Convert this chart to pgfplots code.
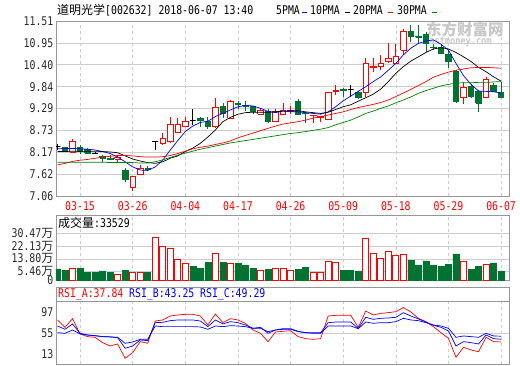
\documentclass[border=0pt]{standalone}
\usepackage{fontspec}
\usepackage{pgfplots}
\usepackage{pgfplotstable}
\pgfplotsset{compat=1.18}
\newfontfamily\lab[FakeStretch=0.82]{DejaVu Sans Mono}
\newfontfamily\cjk{Noto Sans CJK SC}
\newcommand{\fs}{\fontsize{12}{12}\selectfont}
\definecolor{upred}{RGB}{255,0,0}
\definecolor{dngreen}{RGB}{0,115,50}
\definecolor{framec}{RGB}{150,150,150}
\definecolor{gridc}{RGB}{205,205,205}
\definecolor{lblc}{RGB}{40,40,40}
\definecolor{mablue}{RGB}{0,0,255}
\definecolor{magreen}{RGB}{0,128,0}

\pgfplotstableread{
i O H L C
0 8.31 8.39 8.22 8.31
1 8.30 8.31 8.18 8.19
2 8.17 8.52 8.15 8.44
3 8.30 8.36 8.13 8.20
4 8.25 8.27 8.13 8.15
5 8.15 8.19 8.12 8.15
6 8.06 8.10 7.93 8.02
7 8.02 8.10 7.97 7.98
8 8.00 8.07 7.90 8.03
9 7.72 7.76 7.42 7.47
10 7.28 7.57 7.19 7.55
11 7.62 7.85 7.60 7.76
12 7.76 7.82 7.70 7.73
13 8.44 8.44 8.23 8.44
14 8.40 8.65 8.36 8.53
15 8.44 9.08 8.40 8.87
16 8.68 9.04 8.65 8.87
17 8.82 9.08 8.81 8.95
18 8.98 9.27 8.87 8.98
19 9.04 9.07 8.82 8.97
20 8.96 9.08 8.76 8.83
21 8.82 9.54 8.80 9.31
22 9.34 9.42 9.04 9.16
23 9.04 9.50 9.02 9.46
24 9.41 9.48 9.26 9.39
25 9.37 9.47 9.23 9.35
26 9.33 9.34 9.14 9.20
27 9.14 9.30 9.12 9.24
28 9.20 9.26 8.91 8.95
29 8.95 9.26 8.93 9.20
30 9.14 9.42 9.12 9.24
31 9.22 9.36 9.14 9.24
32 9.46 9.53 9.12 9.14
33 9.17 9.20 8.91 9.15
34 9.11 9.13 8.91 9.12
35 9.07 9.09 8.93 9.08
36 9.01 9.71 8.99 9.69
37 9.72 9.88 9.63 9.74
38 9.76 9.80 9.58 9.74
39 9.76 9.88 9.57 9.76
40 9.69 9.72 9.52 9.58
41 9.70 10.56 9.59 10.43
42 10.34 10.56 10.22 10.35
43 10.35 10.65 10.26 10.43
44 10.48 10.94 10.43 10.56
45 10.43 10.92 10.41 10.60
46 10.77 11.31 10.65 11.24
47 11.25 11.40 10.97 11.13
48 11.13 11.41 10.94 11.10
49 11.16 11.24 10.73 10.94
50 10.85 10.92 10.77 10.83
51 10.83 10.92 10.66 10.69
52 10.65 10.77 10.31 10.48
53 10.22 10.26 9.42 9.46
54 9.56 9.97 9.39 9.81
55 9.84 9.90 9.56 9.60
56 9.71 9.76 9.20 9.42
57 9.57 10.09 9.54 10.03
58 9.88 9.93 9.70 9.73
59 9.70 9.97 9.54 9.56
}\candles

\pgfplotstableread{
i ma5 ma10 ma20 ma30
0 8.26 8.19 7.85 7.92
1 8.27 8.19 7.89 7.92
2 8.27 8.20 7.94 7.92
3 8.26 8.20 7.97 7.92
4 8.25 8.20 7.99 7.92
5 8.23 8.20 8.02 7.92
6 8.19 8.19 8.05 7.92
7 8.14 8.18 8.07 7.91
8 8.05 8.16 8.09 7.91
9 7.93 8.08 8.09 7.91
10 7.80 8.00 8.08 7.91
11 7.72 7.95 8.06 7.90
12 7.71 7.91 8.05 7.90
13 7.80 7.89 8.05 7.93
14 7.97 7.93 8.06 7.98
15 8.23 8.02 8.09 8.04
16 8.47 8.08 8.14 8.10
17 8.70 8.19 8.20 8.15
18 8.84 8.28 8.26 8.20
19 8.93 8.40 8.30 8.25
20 8.96 8.56 8.33 8.29
21 9.08 8.74 8.37 8.33
22 9.16 8.95 8.41 8.37
23 9.25 9.06 8.46 8.41
24 9.33 9.14 8.54 8.44
25 9.36 9.18 8.60 8.47
26 9.35 9.19 8.66 8.50
27 9.29 9.19 8.72 8.53
28 9.21 9.19 8.78 8.56
29 9.18 9.20 8.84 8.59
30 9.22 9.22 8.89 8.62
31 9.20 9.23 8.92 8.65
32 9.20 9.23 8.95 8.67
33 9.18 9.20 8.99 8.70
34 9.16 9.18 9.04 8.73
35 9.14 9.16 9.08 8.76
36 9.20 9.19 9.12 8.80
37 9.33 9.26 9.16 8.87
38 9.48 9.33 9.20 8.93
39 9.60 9.38 9.26 8.99
40 9.72 9.47 9.31 9.07
41 9.84 9.56 9.35 9.16
42 9.97 9.65 9.39 9.22
43 10.09 9.78 9.44 9.29
44 10.26 9.97 9.50 9.35
45 10.43 10.18 9.59 9.43
46 10.65 10.35 9.68 9.50
47 10.82 10.49 9.77 9.58
48 10.94 10.60 9.87 9.67
49 11.00 10.71 9.97 9.74
50 11.03 10.80 10.08 9.80
51 10.92 10.83 10.15 9.86
52 10.77 10.80 10.21 9.90
53 10.43 10.71 10.26 9.93
54 10.12 10.60 10.29 9.94
55 9.90 10.48 10.32 9.94
56 9.73 10.33 10.33 9.95
57 9.72 10.22 10.33 9.95
58 9.71 10.09 10.32 9.96
59 9.68 9.98 10.31 9.97
}\mas

\pgfplotstableread{
i v
2 7.6
8 3.9
10 5.0
11 5.0
13 27.8
14 22.2
15 20.7
16 13.5
17 10.9
21 17.4
23 10.9
27 6.5
29 7.6
30 7.6
31 6.5
34 5.0
35 5.0
36 12.2
37 11.5
41 27.2
42 17.4
43 14.1
44 18.7
45 16.3
46 17.0
54 12.2
57 10.4
}\volup

\pgfplotstableread{
i v
0 7.2
1 6.1
3 7.8
4 4.8
5 4.8
6 5.9
7 4.8
9 6.5
12 4.8
18 9.1
19 7.6
20 11.3
22 11.3
24 10.9
25 9.8
26 7.6
28 7.0
32 7.0
33 8.3
38 6.5
39 6.5
40 5.9
47 13.0
48 9.8
49 12.4
50 9.8
51 9.1
52 10.4
53 17.0
55 7.0
56 9.1
58 11.1
59 5.9
}\voldn

\pgfplotstableread{
i A B C
0 81.4 69.5 56.3
1 66.9 62.9 55.0
2 84.0 73.5 61.6
3 53.7 55.0 53.7
4 48.4 51.7 51.5
5 47.1 50.5 50.0
6 36.5 48.4 48.5
7 29.9 48.0 47.8
8 33.9 46.4 47.1
9 5.5 25.3 35.2
10 16.7 29.9 37.8
11 38.5 41.8 43.1
12 35.2 40.5 43.1
13 79.4 76.1 69.5
14 81.4 76.8 68.2
15 89.3 80.1 68.2
16 91.3 81.4 68.2
17 92.6 81.4 68.2
18 92.6 81.4 68.2
19 89.3 79.4 67.6
20 71.5 68.2 62.9
21 93.3 81.4 69.5
22 76.1 73.5 68.2
23 84.0 78.1 70.2
24 81.4 76.1 69.5
25 74.8 71.5 68.2
26 61.6 64.9 64.9
27 55.0 66.9 64.9
28 38.5 55.0 58.3
29 57.6 61.6 61.6
30 59.0 64.2 62.9
31 60.3 64.2 62.9
32 48.4 59.0 58.3
33 44.4 56.3 56.3
34 43.1 56.3 55.0
35 44.4 56.3 55.0
36 89.3 76.1 69.5
37 90.6 77.4 69.5
38 90.6 77.4 69.5
39 90.6 77.4 69.5
40 66.9 64.9 64.2
41 99.2 86.7 77.4
42 91.3 82.7 74.8
43 94.6 84.7 76.1
44 95.9 85.4 76.1
45 97.9 86.7 78.1
46 106.0 95.9 84.7
47 97.2 89.3 81.4
48 84.7 83.4 80.1
49 78.1 77.4 76.1
50 68.2 70.8 71.5
51 56.3 66.9 69.5
52 45.1 59.6 64.9
53 7.5 29.9 47.1
54 27.3 38.5 49.7
55 22.0 36.5 48.4
56 18.7 33.9 47.1
57 47.1 51.7 55.0
58 38.5 44.4 49.7
59 37.84 43.25 49.29
}\rsi

\pgfplotsset{
  panel/.style={
    scale only axis, width=453pt, xmin=-0.2, xmax=60.05,
    axis line style={framec, line width=0.8pt},
    major tick length=0pt, minor tick num=0,
    xtick={3,10,17,24,31,38,45,52,59},
    xmajorgrids,
    x grid style={gridc, line width=0.6pt, dash pattern=on 3pt off 3pt},
    y grid style={gridc, line width=0.6pt},
    yticklabel style={font=\lab\fs, text=lblc, inner sep=0pt, xshift=-2.5pt},
    clip=true,
  }
}

\begin{document}
\begin{tikzpicture}[x=1pt,y=1pt]
\path[use as bounding box] (0,0) rectangle (520,-365);

% watermark
\node[anchor=west, inner sep=0, text=black!22] at (426,-30) {\cjk\bfseries\fontsize{15.5}{16}\selectfont 东方财富网};
\node[anchor=west, inner sep=0, text=black!22] at (424,-41.5) {\lab\bfseries\fontsize{10.5}{11}\selectfont eastmoney.com};

% titles
\node[anchor=west, inner sep=0] at (57,-10) {\fs\cjk 道明光学\lab[002632] 2018-06-07 13:40};
\node[anchor=west, inner sep=0] at (276,-10) {\fs\lab 5PMA};
\draw[mablue, line width=1.6pt] (302,-12.5) -- (307,-12.5);
\node[anchor=west, inner sep=0] at (310,-10) {\fs\lab 10PMA};
\draw[black, line width=1.6pt] (345,-12.5) -- (350,-12.5);
\node[anchor=west, inner sep=0] at (353,-10) {\fs\lab 20PMA};
\draw[upred, line width=1.6pt] (388,-12.5) -- (393,-12.5);
\node[anchor=west, inner sep=0] at (397,-10) {\fs\lab 30PMA};
\draw[magreen, line width=1.6pt] (432,-12.5) -- (437,-12.5);

% main price panel
\begin{axis}[panel, at={(56pt,-21pt)}, anchor=north west, height=175pt,
  ymin=7.06, ymax=11.51,
  ytick={7.06,7.62,8.17,8.73,9.29,9.84,10.40,10.95,11.51},
  yticklabels={7.06,7.62,8.17,8.73,9.29,9.84,10.40,10.95,11.51},
  ymajorgrids,
  xticklabels={03-15,03-26,04-04,04-17,04-26,05-09,05-18,05-29,06-07},
  xticklabel style={font=\lab\fs, text=upred, inner sep=0pt, yshift=-5.5pt},
]
\pgfplotsforeachungrouped \k in {0,...,59}{%
  \pgfplotstablegetelem{\k}{O}\of\candles\let\vO\pgfplotsretval
  \pgfplotstablegetelem{\k}{H}\of\candles\let\vH\pgfplotsretval
  \pgfplotstablegetelem{\k}{L}\of\candles\let\vL\pgfplotsretval
  \pgfplotstablegetelem{\k}{C}\of\candles\let\vC\pgfplotsretval
  \pgfmathsetmacro\vlo{min(\vO,\vC)}%
  \pgfmathsetmacro\vhi{max(\vO,\vC)}%
  \pgfmathsetmacro\xa{\k-0.37}%
  \pgfmathsetmacro\xb{\k+0.37}%
  \pgfmathtruncatemacro\vdir{(\vC>\vO)-(\vC<\vO)}%
  \ifnum\vdir>0 \def\col{upred}\def\fil{white}\else\ifnum\vdir<0 \def\col{dngreen}\def\fil{dngreen}\else\def\col{black}\def\fil{black}\fi\fi
  \edef\cmd{%
    \noexpand\addplot[\col, line width=0.8pt] coordinates {(\k,\vL) (\k,\vH)};%
    \noexpand\addplot[draw=\col, fill=\fil, line width=0.8pt] coordinates {(\xa,\vlo) (\xb,\vlo) (\xb,\vhi) (\xa,\vhi) (\xa,\vlo)};%
  }%
  \cmd
}
\addplot[mablue, line width=0.7pt] table[x=i, y=ma5] \mas;
\addplot[black, line width=0.7pt] table[x=i, y=ma10] \mas;
\addplot[upred, line width=0.7pt] table[x=i, y=ma20] \mas;
\addplot[magreen, line width=0.7pt] table[x=i, y=ma30] \mas;
\end{axis}

% volume panel
\begin{axis}[panel, at={(56pt,-215pt)}, anchor=north west, height=65pt,
  ymin=0, ymax=42.4,
  ytick={0,5.46,13.80,22.13,30.47},
  yticklabels={0,5.46{\cjk 万},13.80{\cjk 万},22.13{\cjk 万},30.47{\cjk 万}},
  ymajorgrids, xticklabels={,,,,,,,,},
]
\addplot[ybar, bar width=6pt, bar shift=0pt, draw=upred, fill=white, line width=0.8pt] table[x=i, y=v] \volup;
\addplot[ybar, bar width=6pt, bar shift=0pt, draw=dngreen, fill=dngreen, line width=0.5pt] table[x=i, y=v] \voldn;
\end{axis}
\node[anchor=west, inner sep=0] at (58,-222.5) {\fs\cjk 成交量\lab:33529};

% RSI panel
\draw[framec, line width=0.8pt] (56,-287) rectangle (509,-301.7);
\node[anchor=west, inner sep=0, text=upred] at (58,-294) {\fs\lab RSI\_A:37.84};
\node[anchor=west, inner sep=0, text=mablue] at (129,-294) {\fs\lab RSI\_B:43.25};
\node[anchor=west, inner sep=0, text=mablue] at (200,-294) {\fs\lab RSI\_C:49.29};
\begin{axis}[panel, at={(56pt,-301.7pt)}, anchor=north west, height=62.3pt,
  ymin=-5.8, ymax=117.6,
  ytick={13,55,97}, yticklabels={13,55,97},
  extra y ticks={55}, extra y tick labels={},
  extra y tick style={grid=major},
  xticklabels={,,,,,,,,},
]
\addplot[upred, line width=0.7pt] table[x=i, y=A] \rsi;
\addplot[mablue, line width=0.7pt] table[x=i, y=B] \rsi;
\addplot[mablue, line width=0.7pt] table[x=i, y=C] \rsi;
\end{axis}
\end{tikzpicture}
\end{document}
